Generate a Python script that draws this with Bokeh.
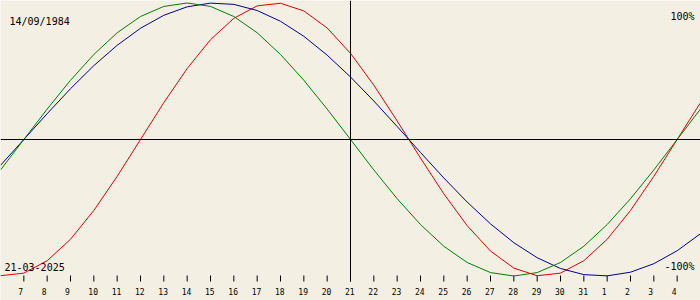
from bokeh.plotting import figure
from bokeh.models import Range1d, Span
from bokeh.core.properties import value
from bokeh.embed import file_html
from bokeh.resources import INLINE

# ---- data ----
# one point per day, 6 March 2025 .. 5 April 2025
day_index = list(range(31))
physical = [-99.8, -97.9, -88.8, -73.1, -52.0, -27.0, 0.0, 27.0, 52.0, 73.1, 88.8,
            97.9, 99.8, 94.2, 81.7, 63.1, 39.8, 13.6, -13.6, -39.8, -63.1, -81.7,
            -94.2, -99.8, -97.9, -88.8, -73.1, -52.0, -27.0, 0.0, 27.0]
emotional = [-22.3, 0.0, 22.3, 43.4, 62.3, 78.2, 90.1, 97.5, 100.0, 97.5, 90.1,
             78.2, 62.3, 43.4, 22.3, 0.0, -22.3, -43.4, -62.3, -78.2, -90.1, -97.5,
             -100.0, -97.5, -90.1, -78.2, -62.3, -43.4, -22.3, 0.0, 22.3]
intellectual = [-18.9, 0.0, 18.9, 37.2, 54.1, 69.0, 81.5, 91.0, 97.2, 99.9, 99.0,
                94.5, 86.6, 75.6, 61.8, 45.8, 28.2, 9.5, -9.5, -28.2, -45.8, -61.8,
                -75.6, -86.6, -94.5, -99.0, -99.9, -97.2, -91.0, -81.5, -69.0]
tick_index = list(range(1, 30))
tick_labels = ["7", "8", "9", "10", "11", "12", "13", "14", "15", "16", "17", "18",
               "19", "20", "21", "22", "23", "24", "25", "26", "27", "28", "29",
               "30", "31", "1", "2", "3", "4"]
today_index = 15
birth_text = "14/09/1984"
date_text = "21-03-2025"
top_text = "100%"
bottom_text = "-100%"

# ---- layout ----
W, H = 700, 300
CENTER_PX = 139.0
AMP_PX = 136.5
Y_TOP = CENTER_PX / AMP_PX * 100
Y_BOT = (CENTER_PX - H) / AMP_PX * 100
X_MAX = 30


def py(pix):
    return (CENTER_PX - pix) / AMP_PX * 100


def px(pix):
    return pix / W * X_MAX


BG = "#f3efe3"
RED = "#e00000"
GREEN = "#007f00"
BLUE = "#00008c"
FONT = value("DejaVu Sans Mono")

p = figure(width=W, height=H, output_backend="svg", toolbar_location=None,
           x_range=Range1d(0, X_MAX), y_range=Range1d(Y_BOT, Y_TOP),
           x_axis_location=None, y_axis_location=None, min_border=0,
           background_fill_color=BG, border_fill_color=BG, outline_line_color=None)
p.grid.visible = False

# axes lines
p.add_layout(Span(location=0, dimension="width", line_color="black", line_width=1))
p.segment(x0=[today_index], y0=[py(0)], x1=[today_index], y1=[py(281)],
          line_color="black", line_width=1)
p.segment(x0=tick_index, y0=py(275), x1=tick_index, y1=py(281),
          line_color="black", line_width=1)

# curves
p.line(day_index, physical, line_color=RED, line_width=1)
p.line(day_index, intellectual, line_color=BLUE, line_width=1)
p.line(day_index, emotional, line_color=GREEN, line_width=1)

# tick labels
p.text(x=tick_index, y=py(290.5), text=tick_labels, text_font=FONT,
       text_font_size="8px", text_align="left", text_baseline="alphabetic",
       x_offset=-5.5, text_color="black")

# corner texts
p.text(x=[px(9)], y=[py(21)], text=[birth_text], text_font=FONT, text_font_size="10px",
       text_align="left", text_baseline="alphabetic", text_color="black")
p.text(x=[px(4)], y=[py(266)], text=[date_text], text_font=FONT, text_font_size="10px",
       text_align="left", text_baseline="alphabetic", text_color="black")
p.text(x=[px(694)], y=[py(16)], text=[top_text], text_font=FONT, text_font_size="10px",
       text_align="right", text_baseline="alphabetic", text_color="black")
p.text(x=[px(694)], y=[py(266)], text=[bottom_text], text_font=FONT, text_font_size="10px",
       text_align="right", text_baseline="alphabetic", text_color="black")

open("out.html", "w").write(file_html(p, INLINE))
